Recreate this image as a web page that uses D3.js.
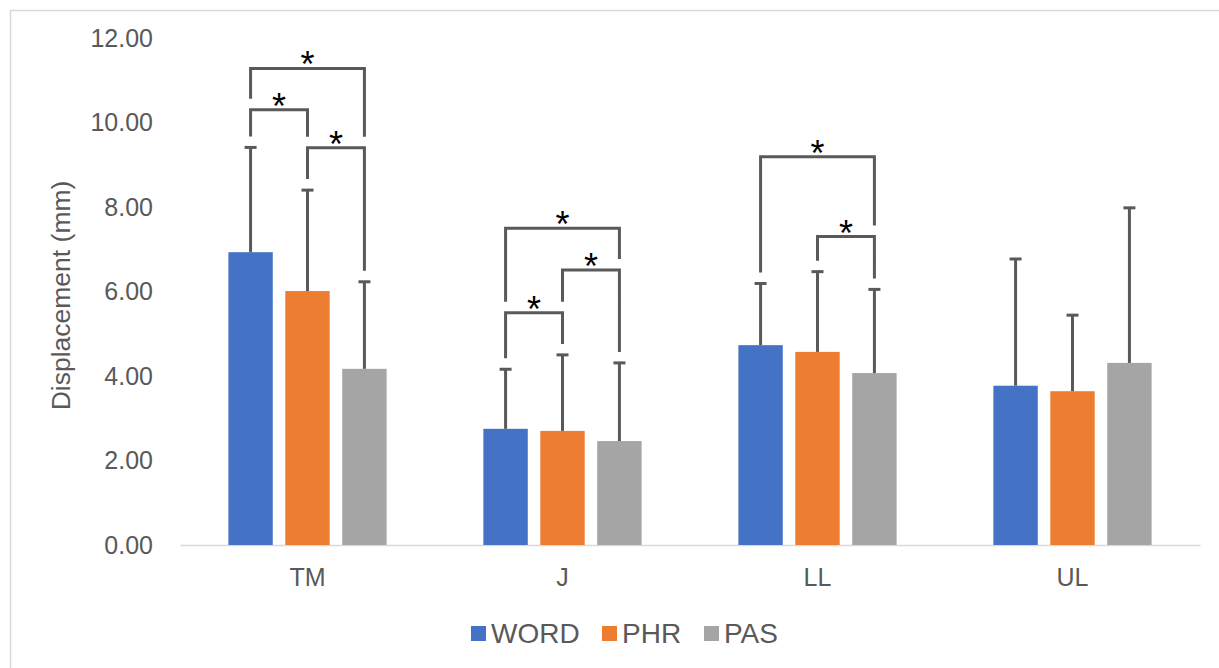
<!DOCTYPE html>
<html>
<head>
<meta charset="utf-8">
<script src="https://cdn.jsdelivr.net/npm/d3@7"></script>
<style>
  body { margin: 0; background: #fff; }
  svg { display: block; font-family: "Liberation Sans", Arial, sans-serif; }
</style>
</head>
<body>
<div id="chart"></div>
<script>
// data
const categories = ['TM', 'J', 'LL', 'UL'];
const series = ['WORD', 'PHR', 'PAS'];
const colors = ['#4472c4', '#ed7d31', '#a5a5a5'];
const wordMeans = [6.93, 2.75, 4.73, 3.77];
const phrMeans = [6.01, 2.70, 4.57, 3.64];
const pasMeans = [4.17, 2.46, 4.07, 4.31];
const wordSD = [2.48, 1.41, 1.46, 3.00];
const phrSD = [2.39, 1.80, 1.90, 1.80];
const pasSD = [2.06, 1.85, 1.98, 3.67];
const yTicks = [0, 2, 4, 6, 8, 10, 12];

// significance brackets
const bracketCat = ['TM', 'TM', 'TM', 'J', 'J', 'J', 'LL', 'LL'];
const bracketFrom = ['WORD', 'WORD', 'PHR', 'WORD', 'PHR', 'WORD', 'WORD', 'PHR'];
const bracketTo = ['PAS', 'PHR', 'PAS', 'PAS', 'PAS', 'PHR', 'PAS', 'PAS'];
const bracketLevel = [11.28, 10.30, 9.40, 7.50, 6.51, 5.50, 9.19, 7.30];

const means = [wordMeans, phrMeans, pasMeans];
const sds = [wordSD, phrSD, pasSD];

const width = 1219, height = 668;
const margin = { L: 180, R: 19, T: 38, B: 123 };
const textColor = '#595959';

const svg = d3.select('#chart').append('svg')
  .attr('width', width).attr('height', height);

// outer chart border (only left/top visible in the crop)
svg.append('rect')
  .attr('x', 10.5).attr('y', 10.5)
  .attr('width', 1300).attr('height', 800)
  .attr('fill', 'none').attr('stroke', '#d9d9d9').attr('stroke-width', 1.5);

const x0 = d3.scaleBand().domain(categories).range([margin.L, width - margin.R]);
const x1 = d3.scaleBand().domain(series).range([0, x0.bandwidth()])
  .paddingInner(0.22).paddingOuter(0.85);
const y = d3.scaleLinear().domain([0, 12]).range([height - margin.B, margin.T]);

const rows = [];
categories.forEach((c, ci) => {
  series.forEach((s, si) => {
    rows.push({ cat: c, ser: s, si: si, mean: means[si][ci], sd: sds[si][ci] });
  });
});
const barCenter = (c, s) => x0(c) + x1(s) + x1.bandwidth() / 2;
const findRow = (c, s) => rows.find(r => r.cat === c && r.ser === s);

// y axis labels
const yAxis = d3.axisLeft(y).tickValues(yTicks).tickFormat(d3.format('.2f')).tickSize(0).tickPadding(0);
const gy = svg.append('g').attr('transform', `translate(153, 0)`).call(yAxis);
gy.select('.domain').remove();
gy.selectAll('text').attr('fill', textColor).style('font-size', '25px')
  .attr('font-family', '"Liberation Sans", Arial, sans-serif');

// x axis
const xAxis = d3.axisBottom(x0).tickSize(0).tickPadding(23);
const gx = svg.append('g').attr('transform', `translate(0, ${y(0)})`).call(xAxis);
gx.select('.domain').attr('stroke', '#d9d9d9').attr('stroke-width', 1.5);
gx.selectAll('text').attr('fill', textColor).style('font-size', '25px')
  .attr('font-family', '"Liberation Sans", Arial, sans-serif');

// y title
svg.append('text')
  .attr('transform', `translate(70, ${(y(0) + y(12)) / 2 + 4}) rotate(-90)`)
  .attr('text-anchor', 'middle')
  .attr('fill', textColor)
  .style('font-size', '26.5px')
  .text('Displacement (mm)');

// bars
svg.append('g').selectAll('rect')
  .data(rows).enter().append('rect')
  .attr('x', d => x0(d.cat) + x1(d.ser))
  .attr('y', d => y(d.mean))
  .attr('width', x1.bandwidth())
  .attr('height', d => y(0) - y(d.mean))
  .attr('fill', d => colors[d.si]);

// error bars (positive only)
const errG = svg.append('g').attr('stroke', '#595959').attr('stroke-width', 3);
rows.forEach(d => {
  const cx = barCenter(d.cat, d.ser);
  errG.append('line').attr('x1', cx).attr('x2', cx)
    .attr('y1', y(d.mean)).attr('y2', y(d.mean + d.sd));
  errG.append('line').attr('x1', cx - 6).attr('x2', cx + 6)
    .attr('y1', y(d.mean + d.sd)).attr('y2', y(d.mean + d.sd));
});

// brackets
const gap = 11;
function legEnd(i, ser) {
  const c = bracketCat[i];
  const si = series.indexOf(ser);
  const r = findRow(c, ser);
  let obstacle = r.mean + r.sd;
  bracketLevel.forEach((lv, j) => {
    if (j === i || bracketCat[j] !== c || lv >= bracketLevel[i]) return;
    const a = series.indexOf(bracketFrom[j]), b = series.indexOf(bracketTo[j]);
    if (si >= a && si <= b) obstacle = Math.max(obstacle, lv);
  });
  return y(obstacle) - gap;
}
const brG = svg.append('g');
bracketLevel.forEach((lv, i) => {
  const xa = barCenter(bracketCat[i], bracketFrom[i]);
  const xb = barCenter(bracketCat[i], bracketTo[i]);
  const yl = y(lv);
  brG.append('path')
    .attr('d', `M${xa},${legEnd(i, bracketFrom[i])}V${yl}H${xb}V${legEnd(i, bracketTo[i])}`)
    .attr('fill', 'none').attr('stroke', '#595959').attr('stroke-width', 3);
  brG.append('text')
    .attr('x', (xa + xb) / 2).attr('y', yl + 9)
    .attr('text-anchor', 'middle')
    .attr('fill', '#000')
    .style('font-size', '36px')
    .text('*');
});

// legend
const legX = [471, 602, 704];
const legend = svg.append('g');
series.forEach((s, i) => {
  legend.append('rect').attr('x', legX[i]).attr('y', 626)
    .attr('width', 15).attr('height', 15).attr('fill', colors[i]);
  legend.append('text').attr('x', legX[i] + 20).attr('y', 643)
    .attr('fill', textColor).style('font-size', '28px').text(s);
});
</script>
</body>
</html>
